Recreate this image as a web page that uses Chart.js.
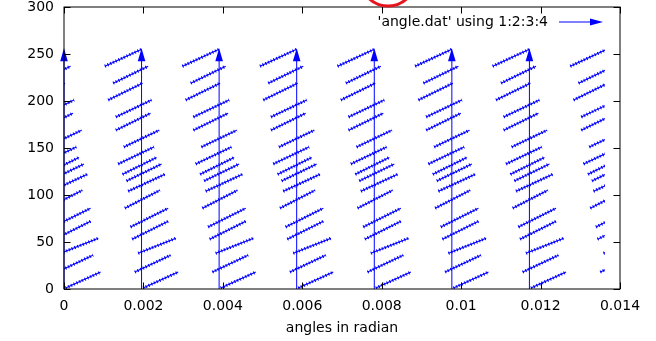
<!DOCTYPE html>
<html>
<head>
<meta charset="utf-8">
<script src="https://cdn.jsdelivr.net/npm/chart.js@4.4.0/dist/chart.umd.min.js"></script>
<style>
  html, body { margin: 0; padding: 0; background: #fff; }
  #wrap { width: 656px; height: 341px; }
</style>
</head>
<body>
<div id="wrap"><canvas id="angleChart" width="656" height="341"></canvas></div>
<script>
// long vertical arrows (x in radian), all from 0 up to arrowTop
const arrowX = [0, 0.001953, 0.003906, 0.005859, 0.007813, 0.009766, 0.011719];
const arrowTop = 256;

// columns of short-arrow streaks, data stops at xMax
const streakCols = [0, 0.001953, 0.003906, 0.005859, 0.007813, 0.009766, 0.011719, 0.013672];
const xMax = 0.01362;

// one column of streaks: x offset from the column line (radian) and y, start -> end
const streakDx0 = [-0.000924, -0.000715, -0.000841, -0.000647, -0.000647, -0.000446, -0.000589, -0.000478,
                   -0.000378, -0.000337, -0.00042, -0.000277, -0.000237, -0.000086, -0.000169, 0.00004];
const streakY0 = [237, 219, 201, 183, 169, 151, 133, 122, 115, 104, 86, 66, 53, 38, 18, 1];
const streakDx1 = [0, 0.000166, 0.000025, 0.000252, 0.000227, 0.000443, 0.00031, 0.000378,
                   0.000504, 0.000587, 0.000461, 0.00067, 0.00067, 0.000864, 0.00073, 0.000922];
const streakY1 = [255, 237, 219, 201, 187, 169, 151, 140, 133, 122, 105, 86, 72, 54, 36, 18];

const xTicks = [0, 0.002, 0.004, 0.006, 0.008, 0.01, 0.012, 0.014];
const xTickLabels = ['0', '0.002', '0.004', '0.006', '0.008', '0.01', '0.012', '0.014'];
const yTicks = [0, 50, 100, 150, 200, 250, 300];
const yTickLabels = ['0', '50', '100', '150', '200', '250', '300'];

const blue = '#0000ff';
const font = 'DejaVu Sans';

function arrowHead(ctx, x, y, ang, len, half) {
  ctx.save();
  ctx.translate(x, y);
  ctx.rotate(ang);
  ctx.beginPath();
  ctx.moveTo(0, 0);
  ctx.lineTo(-len, -half);
  ctx.lineTo(-len, half);
  ctx.closePath();
  ctx.fill();
  ctx.restore();
}

const vectorPlugin = {
  id: 'vectors',
  afterDatasetsDraw(chart) {
    const { ctx, chartArea: a, scales: { x, y } } = chart;
    ctx.save();
    ctx.beginPath();
    ctx.rect(a.left, a.top, x.getPixelForValue(xMax) - a.left, a.bottom - a.top);
    ctx.clip();
    ctx.strokeStyle = blue;
    streakCols.forEach(cx => {
      for (let i = 0; i < streakY0.length; i++) {
        const x0 = x.getPixelForValue(cx + streakDx0[i]);
        const y0 = y.getPixelForValue(streakY0[i]);
        const x1 = x.getPixelForValue(cx + streakDx1[i]);
        const y1 = y.getPixelForValue(streakY1[i]);
        ctx.beginPath();
        ctx.moveTo(x0, y0);
        ctx.lineTo(x1, y1);
        ctx.lineWidth = 1.1;
        ctx.setLineDash([]);
        ctx.stroke();
        ctx.lineWidth = 3.2;
        ctx.setLineDash([1, 2]);
        ctx.stroke();
      }
    });
    ctx.restore();

    // long arrows
    ctx.save();
    ctx.strokeStyle = blue;
    ctx.fillStyle = blue;
    ctx.lineWidth = 1;
    arrowX.forEach(v => {
      const px = x.getPixelForValue(v);
      const top = y.getPixelForValue(arrowTop);
      ctx.beginPath();
      ctx.moveTo(px, y.getPixelForValue(0));
      ctx.lineTo(px, top + 6);
      ctx.stroke();
      arrowHead(ctx, px, top, -Math.PI / 2, 13, 3.8);
    });
    ctx.restore();
  },
  afterDraw(chart) {
    const { ctx, chartArea: a, scales: { x, y } } = chart;
    ctx.save();
    ctx.strokeStyle = '#000';
    ctx.lineWidth = 1;
    ctx.strokeRect(a.left, a.top, a.right - a.left, a.bottom - a.top);
    const t = 6.5;
    ctx.beginPath();
    xTicks.forEach(v => {
      const px = Math.round(x.getPixelForValue(v)) + 0.5;
      ctx.moveTo(px, a.bottom); ctx.lineTo(px, a.bottom - t);
      ctx.moveTo(px, a.top); ctx.lineTo(px, a.top + t);
    });
    yTicks.forEach(v => {
      const py = Math.round(y.getPixelForValue(v)) + 0.5;
      ctx.moveTo(a.left, py); ctx.lineTo(a.left + t, py);
      ctx.moveTo(a.right, py); ctx.lineTo(a.right - t, py);
    });
    ctx.stroke();

    // key
    ctx.fillStyle = '#000';
    ctx.font = '14px ' + font;
    ctx.textAlign = 'right';
    ctx.textBaseline = 'middle';
    ctx.fillText("'angle.dat' using 1:2:3:4", 548, 22);
    ctx.strokeStyle = blue;
    ctx.fillStyle = blue;
    ctx.beginPath();
    ctx.moveTo(559, 22);
    ctx.lineTo(595, 22);
    ctx.stroke();
    arrowHead(ctx, 603, 22, 0, 13, 3.5);

    // red mark at the top
    ctx.strokeStyle = '#e8141e';
    ctx.lineWidth = 3;
    ctx.beginPath();
    ctx.arc(388, -22, 28, 0, Math.PI * 2);
    ctx.stroke();
    ctx.restore();
  }
};

const ctx = document.getElementById('angleChart').getContext('2d');
new Chart(ctx, {
  type: 'scatter',
  data: { datasets: [] },
  options: {
    responsive: false,
    animation: false,
    layout: { padding: { left: 0, top: 7, right: 36, bottom: 0 } },
    plugins: { legend: { display: false }, tooltip: { enabled: false } },
    scales: {
      x: {
        type: 'linear',
        min: 0,
        max: 0.014,
        afterBuildTicks: s => { s.ticks = xTicks.map(v => ({ value: v })); },
        afterFit: s => { s.height = 52; },
        ticks: {
          callback: (v, i) => xTickLabels[i],
          font: { family: font, size: 14 },
          color: '#000',
          padding: 0,
          maxRotation: 0,
          autoSkip: false
        },
        grid: { display: false, drawTicks: true, tickLength: 9 },
        border: { display: false },
        title: {
          display: true,
          text: 'angles in radian',
          font: { family: font, size: 14 },
          color: '#000',
          padding: { top: 0, bottom: 4 }
        }
      },
      y: {
        type: 'linear',
        min: 0,
        max: 300,
        afterBuildTicks: s => { s.ticks = yTicks.map(v => ({ value: v })); },
        afterFit: s => { s.width = 64; },
        ticks: {
          callback: (v, i) => yTickLabels[i],
          font: { family: font, size: 14, lineHeight: 0.6 },
          color: '#000',
          padding: 0
        },
        grid: { display: false, drawTicks: true, tickLength: 10 },
        border: { display: false }
      }
    }
  },
  plugins: [vectorPlugin]
});
</script>
</body>
</html>
